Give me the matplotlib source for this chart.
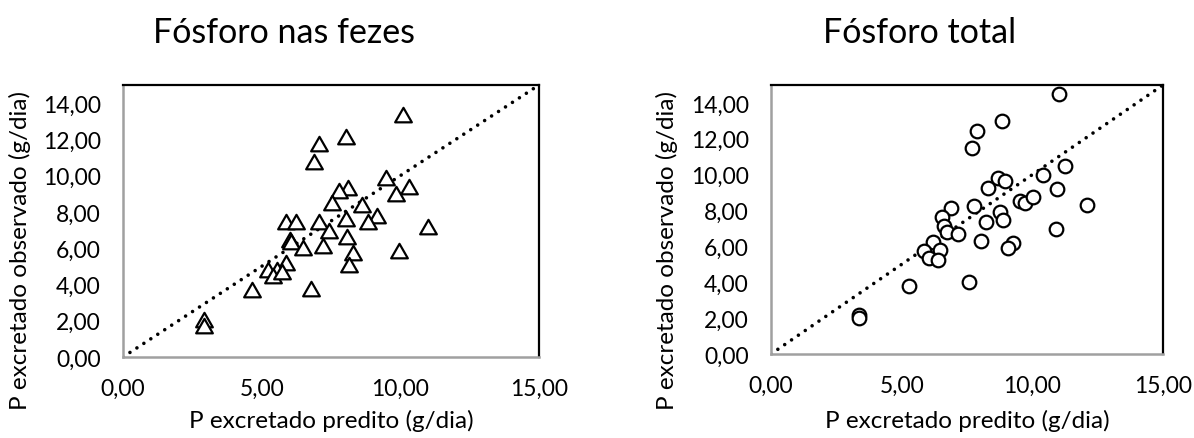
import matplotlib
matplotlib.use("Agg")
import matplotlib.pyplot as plt
from matplotlib.ticker import FuncFormatter
from matplotlib.path import Path

plt.rcParams['font.family'] = ['Lato', 'DejaVu Sans']

# ---- data: Fósforo nas fezes (triangles) ----
fezes_pred = [10.08, 8.03, 7.08, 6.89, 9.48, 10.30, 9.84, 8.13, 7.80, 7.52,
              8.63, 9.15, 8.82, 8.03, 7.08, 7.44, 10.99, 5.88, 6.23, 6.02,
              6.06, 6.48, 7.22, 8.08, 9.94, 8.31, 8.16, 5.88, 5.24, 5.54,
              5.40, 5.72, 4.66, 6.77, 2.91, 2.92]
fezes_obs = [13.35, 12.11, 11.75, 10.74, 9.85, 9.36, 8.99, 9.32, 9.14, 8.47,
             8.38, 7.76, 7.46, 7.61, 7.46, 6.97, 7.15, 7.46, 7.46, 6.47,
             6.36, 5.99, 6.14, 6.64, 5.86, 5.72, 5.07, 5.17, 4.82, 4.80,
             4.49, 4.67, 3.69, 3.75, 2.06, 1.73]

# ---- data: Fósforo total (circles) ----
total_pred = [11.02, 8.84, 7.87, 7.70, 11.25, 10.42, 8.67, 8.95, 8.32, 10.94,
              9.53, 9.72, 10.04, 12.08, 6.89, 7.77, 6.53, 8.76, 8.86, 8.24,
              6.63, 6.75, 7.17, 10.91, 8.04, 6.21, 6.47, 5.87, 6.05, 6.38,
              9.25, 9.08, 5.29, 7.59, 3.37, 3.38]
total_obs = [14.50, 13.01, 12.45, 11.47, 10.50, 10.00, 9.80, 9.67, 9.28, 9.20,
             8.55, 8.44, 8.74, 8.31, 8.16, 8.23, 7.66, 7.90, 7.49, 7.38,
             7.12, 6.78, 6.69, 6.97, 6.28, 6.23, 5.80, 5.76, 5.33, 5.24,
             6.17, 5.89, 3.81, 4.03, 2.17, 2.01]

identity = [0, 15]
x_ticks = [0, 5, 10, 15]
y_ticks = [0, 2, 4, 6, 8, 10, 12, 14]

titles = ["Fósforo nas fezes", "Fósforo total"]
xlabel = "P excretado predito (g/dia)"
ylabel = "P excretado observado (g/dia)"

W, H = 1194, 439
fig = plt.figure(figsize=(W / 100, H / 100), dpi=100)

def px_rect(l, t, r, b):
    return [l / W, 1 - b / H, (r - l) / W, (b - t) / H]

fmt = FuncFormatter(lambda v, p: f"{v:.2f}".replace(".", ","))

tri = Path([(-1.0, -0.82), (1.0, -0.82), (0.0, 0.92), (-1.0, -0.82)],
           [Path.MOVETO, Path.LINETO, Path.LINETO, Path.CLOSEPOLY])

panels = [
    dict(rect=px_rect(123, 86, 539, 358), x=fezes_pred, y=fezes_obs,
         marker=tri, ms=12, title_x=284, ylab_x=20),
    dict(rect=px_rect(771, 86, 1163, 355), x=total_pred, y=total_obs,
         marker='o', ms=9.8, title_x=920, ylab_x=667),
]

for i, p in enumerate(panels):
    ax = fig.add_axes(p['rect'])
    ax.plot(identity, identity, color='black', lw=2.6,
            linestyle=(0, (0.001, 2.3)), dash_capstyle='round', zorder=2)
    ax.plot(p['x'], p['y'], linestyle='none', marker=p['marker'],
            ms=p['ms'], mfc='white', mec='black', mew=1.6, zorder=3,
            clip_on=False)
    ax.set_xlim(0, 15)
    ax.set_ylim(0, 15)
    ax.set_xticks(x_ticks)
    ax.set_yticks(y_ticks)
    ax.xaxis.set_major_formatter(fmt)
    ax.yaxis.set_major_formatter(fmt)
    ax.tick_params(axis='both', length=0, labelsize=16.5, colors='black')
    ax.tick_params(axis='x', pad=15)
    ax.tick_params(axis='y', pad=16)
    for side in ['top', 'right']:
        ax.spines[side].set_color('black')
        ax.spines[side].set_linewidth(1.6)
    for side in ['left', 'bottom']:
        ax.spines[side].set_color('#a0a0a0')
        ax.spines[side].set_linewidth(1.8)

    bbox = p['rect']
    cx = bbox[0] + bbox[2] / 2
    fig.text(p['title_x'] / W, 1 - 33 / H, titles[i], ha='center',
             va='center', fontsize=24.5)
    fig.text(cx, 1 - 421 / H, xlabel, ha='center', va='center', fontsize=17.5)
    fig.text(p['ylab_x'] / W, 1 - 250 / H, ylabel, ha='center', va='center',
             rotation=90, fontsize=17.5)

fig.savefig("out.png", dpi=100)
